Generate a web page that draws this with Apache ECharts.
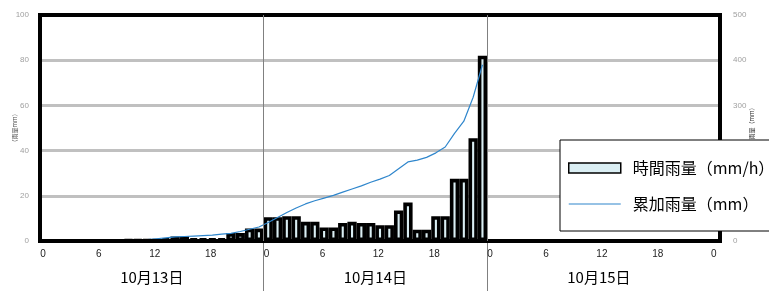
<!DOCTYPE html>
<html>
<head>
<meta charset="utf-8">
<script src="https://cdn.jsdelivr.net/npm/echarts@6/dist/echarts.min.js"></script>
<style>
html, body { margin: 0; padding: 0; background: #fff; }
#main { width: 769px; height: 291px; }
</style>
</head>
<body>
<div id="main"></div>
<script>
// 時間雨量 (mm/h) 0時〜23時
const hourly13 = [0, 0, 0, 0, 0, 0, 0, 0, 0, 0.5, 0.5, 0.5, 0.5, 1, 2, 2, 1, 1, 1, 1, 3.5, 3.5, 5.5, 5.5];
const hourly14 = [10.5, 10.5, 11, 11, 8.5, 8.5, 6, 6, 8, 8.5, 8, 8, 7, 7, 13.5, 17, 5, 5, 11, 11, 27.5, 27.5, 45.5, 82];
// 累加雨量 (mm)
const total13 = [null, null, null, null, null, null, null, null, null, 0.5, 1, 3, 5, 7, 9, 10, 11, 12, 13, 15, 17, 21, 26, 31];
const total14 = [41, 52, 63, 73, 82, 89, 95, 101, 108, 115, 122, 130, 137, 145, 160, 175, 179, 185, 195, 208, 238, 265, 318, 390];

const hourTicks = [0, 6, 12, 18, 24, 30, 36, 42, 48, 54, 60, 66, 72];
const dayLabels = ['10月13日', '10月14日', '10月15日'];
const dayBreaks = [24, 48];
const barName = '時間雨量（mm/h）';
const lineName = '累加雨量（mm）';

const hourly = hourly13.concat(hourly14);
const total = total13.concat(total14);
// 73 hour slots on the chart (0..72)
const slots = Array.from({ length: 73 }, (_, i) => String(i));
const lineData = total.map((v, i) => [i + 0.5, v]);

const numFont = '"Liberation Sans Narrow", "Liberation Sans", sans-serif';
const jpFont = '"Noto Sans CJK JP", sans-serif';
const lineColor = '#2f86cc';

let myChart = echarts.init(document.getElementById('main'));
let option = {
    animation: false,
    grid: {
        left: 40,
        right: 49,
        top: 15,
        bottom: 50,
        containLabel: false,
        outerBoundsMode: 'none',
        show: true,
        z: 5,
        borderColor: '#000',
        borderWidth: 4,
        backgroundColor: 'transparent'
    },
    legend: {
        orient: 'vertical',
        left: 560,
        top: 140,
        z: 10,
        backgroundColor: '#fff',
        borderColor: '#000',
        borderWidth: 1,
        borderRadius: 0,
        padding: [20, 10, 19, 8],
        itemWidth: 52,
        itemHeight: 10,
        itemGap: 20,
        textStyle: { fontFamily: jpFont, fontSize: 16, color: '#000', padding: [0, 0, 0, 7] },
        data: [
            { name: barName, icon: 'rect', itemStyle: { color: '#daeef3', borderColor: '#000', borderWidth: 1.5 } },
            { name: lineName, icon: 'path://M0,0 L52,0 L52,1.2 L0,1.2 Z', itemStyle: { color: lineColor, borderWidth: 0 } }
        ]
    },
    xAxis: [
        {
            type: 'value',
            min: 0,
            max: 73,
            interval: 6,
            axisLine: { show: true, lineStyle: { color: '#000', width: 4 } },
            axisTick: {
                show: true,
                customValues: dayBreaks,
                length: 50,
                lineStyle: { color: '#808080', width: 1 }
            },
            splitLine: { show: false },
            axisLabel: {
                customValues: hourTicks,
                margin: 8,
                padding: [0, 0, 0, 6],
                fontSize: 10,
                fontFamily: numFont,
                color: '#222',
                formatter: v => String(v % 24)
            }
        },
        {
            type: 'value',
            min: 0,
            max: 73,
            interval: 12,
            position: 'bottom',
            offset: 21,
            axisLine: { show: false },
            axisTick: { show: false },
            splitLine: { show: false },
            axisLabel: {
                customValues: [12, 36, 60],
                fontSize: 15,
                fontFamily: jpFont,
                color: '#000',
                formatter: v => dayLabels[Math.floor(v / 24)]
            }
        },
        {
            // hidden slot axis for the hourly bars
            type: 'category',
            data: slots,
            boundaryGap: true,
            show: false
        }
    ],
    yAxis: [
        {
            type: 'value',
            min: 0,
            max: 100,
            interval: 20,
            name: '（雨量mm）',
            nameLocation: 'middle',
            nameRotate: 90,
            nameGap: 22,
            nameMoveOverlap: false,
            nameTextStyle: { fontSize: 6, fontFamily: jpFont, color: '#555' },
            axisLine: { show: false },
            axisTick: { show: false },
            axisLabel: { fontSize: 8, fontFamily: numFont, color: '#a0a0a0', margin: 11 },
            splitLine: { show: true, lineStyle: { color: '#c0c0c0', width: 3 } }
        },
        {
            type: 'value',
            min: 0,
            max: 500,
            interval: 100,
            position: 'right',
            name: '累加雨量（mm）',
            nameLocation: 'middle',
            nameRotate: 90,
            nameGap: 29,
            nameMoveOverlap: false,
            nameTextStyle: { fontSize: 6, fontFamily: jpFont, color: '#333' },
            axisLine: { show: false },
            axisTick: { show: false },
            axisLabel: { fontSize: 8, fontFamily: numFont, color: '#a0a0a0', margin: 13 },
            splitLine: { show: false }
        }
    ],
    series: [
        {
            name: barName,
            type: 'bar',
            xAxisIndex: 2,
            yAxisIndex: 0,
            barWidth: 9.3,
            itemStyle: { color: '#daeef3', borderColor: '#000', borderWidth: 3.6 },
            data: hourly
        },
        {
            name: lineName,
            type: 'line',
            xAxisIndex: 0,
            yAxisIndex: 1,
            symbol: 'none',
            z: 3,
            itemStyle: { color: lineColor },
            lineStyle: { color: lineColor, width: 1.2 },
            data: lineData,
            markLine: {
                silent: true,
                symbol: 'none',
                label: { show: false },
                lineStyle: { color: '#808080', width: 1, type: 'solid' },
                data: dayBreaks.map(d => ({ xAxis: d }))
            }
        }
    ]
};
myChart.setOption(option);
</script>
</body>
</html>
